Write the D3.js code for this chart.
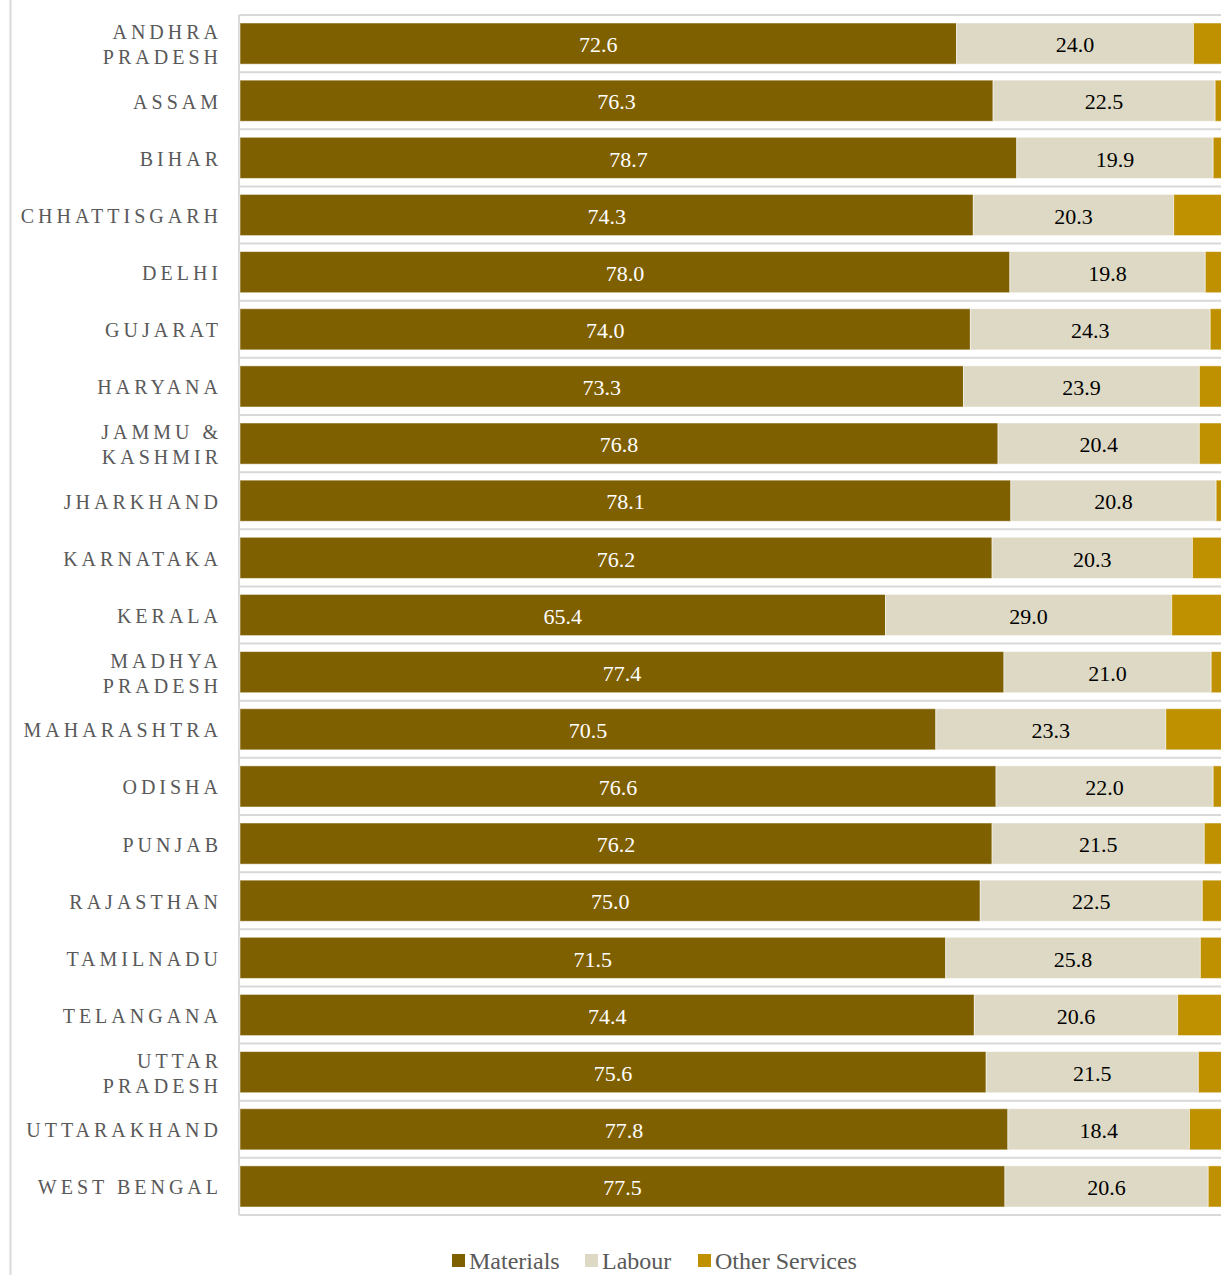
<!DOCTYPE html>
<html>
<head>
<meta charset="utf-8">
<script src="https://cdn.jsdelivr.net/npm/d3@7/dist/d3.min.js"></script>
<style>
  html, body { margin: 0; padding: 0; background: #fff; overflow: hidden; }
  svg { display: block; }
</style>
</head>
<body>
<div id="chart"></div>
<script>
// Cost composition by state (% share)
const states = [
  "ANDHRA PRADESH", "ASSAM", "BIHAR", "CHHATTISGARH", "DELHI", "GUJARAT",
  "HARYANA", "JAMMU & KASHMIR", "JHARKHAND", "KARNATAKA", "KERALA",
  "MADHYA PRADESH", "MAHARASHTRA", "ODISHA", "PUNJAB", "RAJASTHAN",
  "TAMILNADU", "TELANGANA", "UTTAR PRADESH", "UTTARAKHAND", "WEST BENGAL"
];
// Labels that wrap onto two lines
const stateLines = {
  "ANDHRA PRADESH": ["ANDHRA", "PRADESH"],
  "JAMMU & KASHMIR": ["JAMMU &", "KASHMIR"],
  "MADHYA PRADESH": ["MADHYA", "PRADESH"],
  "UTTAR PRADESH": ["UTTAR", "PRADESH"]
};
const materials = [72.6, 76.3, 78.7, 74.3, 78.0, 74.0, 73.3, 76.8, 78.1, 76.2, 65.4,
                   77.4, 70.5, 76.6, 76.2, 75.0, 71.5, 74.4, 75.6, 77.8, 77.5];
const labour    = [24.0, 22.5, 19.9, 20.3, 19.8, 24.3, 23.9, 20.4, 20.8, 20.3, 29.0,
                   21.0, 23.3, 22.0, 21.5, 22.5, 25.8, 20.6, 21.5, 18.4, 20.6];
const otherServices = [3.4, 1.2, 1.4, 5.4, 2.2, 1.7, 2.8, 2.8, 1.1, 3.5, 5.6,
                       1.6, 6.2, 1.4, 2.3, 2.5, 2.7, 5.0, 2.9, 3.8, 1.9];
const seriesNames = ["Materials", "Labour", "Other Services"];
const seriesColors = ["#7F6000", "#DDD9C4", "#BF9000"];
const labelColors = ["#FFFFFF", "#000000", null];

const rows = states.map((s, i) => ({
  state: s,
  "Materials": materials[i],
  "Labour": labour[i],
  "Other Services": otherServices[i]
}));

const W = 1240, H = 1275;
const svg = d3.select("#chart").append("svg").attr("width", W).attr("height", H);

const plot = { left: 240, right: 1227, top: 15, bottom: 1215 };
const x = d3.scaleLinear().domain([0, 100]).range([plot.left, plot.right]);
const y = d3.scaleBand().domain(states).range([plot.top, plot.bottom]).paddingInner(0.28).paddingOuter(0.14);
const band = d3.scaleBand().domain(states).range([plot.top, plot.bottom]);

// outer frame line on the left
svg.append("line").attr("x1", 10.5).attr("x2", 10.5).attr("y1", 0).attr("y2", H)
  .attr("stroke", "#D9D9D9").attr("stroke-width", 2);

// row separators and plot-area left edge
const grid = svg.append("g").attr("stroke", "#D9D9D9").attr("stroke-width", 2);
states.forEach(s => {
  grid.append("line").attr("x1", plot.left - 1).attr("x2", W)
    .attr("y1", band(s)).attr("y2", band(s));
});
grid.append("line").attr("x1", plot.left - 1).attr("x2", W)
  .attr("y1", plot.bottom).attr("y2", plot.bottom);
grid.append("line").attr("x1", plot.left - 1).attr("x2", plot.left - 1)
  .attr("y1", plot.top).attr("y2", plot.bottom);

const stack = d3.stack().keys(seriesNames)(rows);

const layers = svg.append("g").selectAll("g").data(stack).join("g")
  .attr("fill", (d, i) => seriesColors[i]);

layers.selectAll("rect").data(d => d).join("rect")
  .attr("x", d => x(d[0]))
  .attr("width", d => x(d[1]) - x(d[0]))
  .attr("y", d => y(d.data.state))
  .attr("height", y.bandwidth())
  .attr("stroke", "#FFFFFF").attr("stroke-opacity", 0.5).attr("stroke-width", 1);

// value labels on Materials and Labour segments
stack.forEach((layer, i) => {
  if (!labelColors[i]) return;
  svg.append("g").selectAll("text").data(layer).join("text")
    .attr("x", d => (x(d[0]) + x(d[1])) / 2)
    .attr("y", d => y(d.data.state) + y.bandwidth() / 2 + 1)
    .attr("dy", "0.35em")
    .attr("text-anchor", "middle")
    .attr("font-family", "'Liberation Serif', 'Times New Roman', serif")
    .attr("font-size", 22)
    .attr("fill", labelColors[i])
    .text(d => (d[1] - d[0]).toFixed(1));
});

// category axis labels
const catG = svg.append("g")
  .attr("font-family", "'Liberation Serif', 'Times New Roman', serif")
  .attr("font-size", 20)
  .attr("letter-spacing", "4px")
  .attr("fill", "#595959")
  .attr("text-anchor", "end");
states.forEach(s => {
  const lines = stateLines[s] || [s];
  const cy = band(s) + band.bandwidth() / 2 + 1;
  const t = catG.append("text").attr("x", 222).attr("y", cy);
  lines.forEach((ln, k) => {
    t.append("tspan").attr("x", 222)
      .attr("y", cy + (k - (lines.length - 1) / 2) * 25)
      .attr("dy", "0.35em")
      .text(ln);
  });
});

// legend
const legend = svg.append("g")
  .attr("font-family", "'Liberation Serif', 'Times New Roman', serif")
  .attr("font-size", 24)
  .attr("fill", "#595959");
const legendX = [452, 585, 698];
seriesNames.forEach((n, i) => {
  legend.append("rect").attr("x", legendX[i]).attr("y", 1254).attr("width", 13).attr("height", 13)
    .attr("fill", seriesColors[i]);
  legend.append("text").attr("x", legendX[i] + 17).attr("y", 1269).text(n);
});
</script>
</body>
</html>
